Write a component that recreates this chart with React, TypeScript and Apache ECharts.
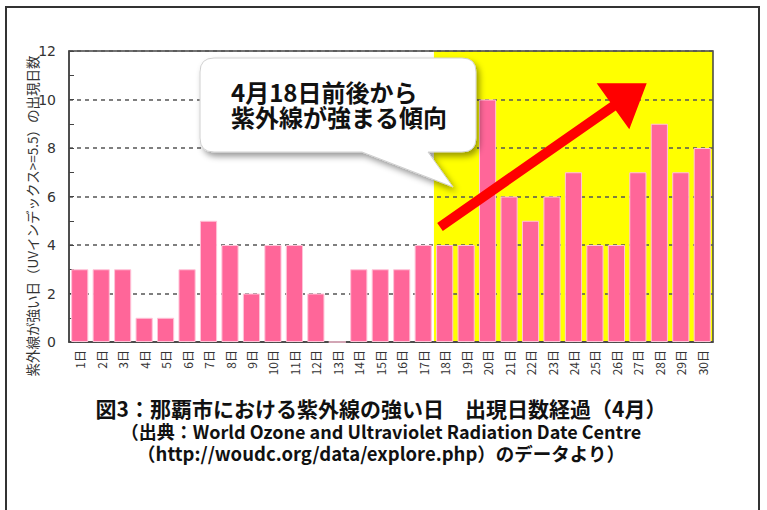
import React, { useEffect, useRef } from 'react';
import * as echarts from 'echarts';

const days = [
  '1日', '2日', '3日', '4日', '5日', '6日', '7日', '8日', '9日', '10日',
  '11日', '12日', '13日', '14日', '15日', '16日', '17日', '18日', '19日', '20日',
  '21日', '22日', '23日', '24日', '25日', '26日', '27日', '28日', '29日', '30日',
];
const uvDays = [3, 3, 3, 1, 1, 3, 5, 4, 2, 4, 4, 2, 0, 3, 3, 3, 4, 4, 4, 10, 6, 5, 6, 7, 4, 4, 7, 9, 7, 8];
const yMin = 0;
const yMax = 12;
const yStep = 2;
const highlightFrom = 17;
const highlightTo = 30;
const yAxisName = '紫外線が強い日（UVインデックス>=5.5）の出現日数';
const calloutLines = ['4月18日前後から', '紫外線が強まる傾向'];
const titleLines = [
  '図3：那覇市における紫外線の強い日　出現日数経過（4月）',
  '（出典：World Ozone and Ultraviolet Radiation Date Centre',
  '（http://woudc.org/data/explore.php）のデータより）',
];

const calloutPath =
  'M214,58 H462 Q476,58 476,72 V138 Q476,152 462,152 H428 L453,187 L362,152 H214 Q200,152 200,138 V72 Q200,58 214,58 Z';

let registered = false;

export default function App() {
  const ref = useRef<HTMLDivElement>(null);
  useEffect(() => {
    if (!registered) {
      echarts.graphic.registerShape('callout', echarts.graphic.extendPath(calloutPath, {}) as any);
      registered = true;
    }
    const chart = echarts.init(ref.current!, null, { renderer: 'svg' });
    const jp = '"Noto Sans CJK JP", sans-serif';
    chart.setOption({
      animation: false,
      backgroundColor: '#ffffff',
      grid: {
        left: 69,
        right: 54,
        top: 51,
        bottom: 168,
        show: true,
        borderColor: '#444',
        borderWidth: 1.5,
        backgroundColor: 'transparent',
        z: 2,
      },
      xAxis: [
        {
          type: 'category',
          data: days,
          boundaryGap: true,
          axisLine: { lineStyle: { color: '#444', width: 1.5 } },
          axisTick: { show: false },
          axisLabel: { rotate: 90, fontSize: 12, color: '#333', margin: 8, fontFamily: jp },
          z: 2,
        },
        { type: 'value', min: 0, max: 30, show: false },
      ],
      yAxis: {
        type: 'value',
        min: yMin,
        max: yMax,
        interval: yStep,
        axisLine: { show: true, lineStyle: { color: '#444', width: 1.5 } },
        axisTick: { show: true, inside: true, length: 5, lineStyle: { color: '#444' } },
        minorTick: { show: true, splitNumber: 2, length: 5, lineStyle: { color: '#444' } },
        splitLine: { show: true, lineStyle: { type: [4, 4], color: '#555', width: 1.5 } },
        axisLabel: { fontSize: 14, color: '#333', margin: 13, fontFamily: 'DejaVu Sans' },
        z: 2,
      },
      series: [
        {
          type: 'line',
          xAxisIndex: 1,
          data: [],
          z: 1,
          markArea: {
            silent: true,
            z: 1,
            itemStyle: { color: '#ffff00' },
            data: [[{ xAxis: highlightFrom, yAxis: yMin }, { xAxis: highlightTo, yAxis: yMax }]],
          },
        },
        {
          type: 'bar',
          data: uvDays,
          barWidth: '80%',
          z: 3,
          itemStyle: { color: '#ff6699', borderColor: '#ffc4d8', borderWidth: 1 },
        },
      ],
      graphic: [
        {
          type: 'rect',
          z: 0,
          shape: { x: 6, y: 7, width: 753, height: 530 },
          style: { fill: 'none', stroke: '#333', lineWidth: 2 },
        },
        {
          type: 'text',
          z: 10,
          x: 32,
          y: 216,
          rotation: Math.PI / 2,
          style: {
            text: yAxisName,
            font: '13.5px ' + jp,
            fill: '#333',
            textAlign: 'center',
            textVerticalAlign: 'middle',
          },
        },
        {
          type: 'polygon',
          z: 100,
          shape: {
            points: [
              [437.2, 222.9],
              [610.2, 102.2],
              [596.7, 83.3],
              [646.7, 83.3],
              [629.3, 129.3],
              [615.8, 110.4],
              [442.8, 231.1],
            ],
          },
          style: { fill: '#ff0000' },
        },
        {
          type: 'callout',
          z: 100,
          x: 0,
          y: 0,
          style: {
            fill: '#ffffff',
            stroke: '#d0d0d0',
            lineWidth: 1,
            shadowBlur: 6,
            shadowOffsetX: 3,
            shadowOffsetY: 4,
            shadowColor: 'rgba(0,0,0,0.4)',
          },
        },
        {
          type: 'text',
          z: 101,
          x: 231,
          y: 78.5,
          style: {
            text: calloutLines.join('\n'),
            font: 'bold 24px ' + jp,
            lineHeight: 25,
            fill: '#111',
            textAlign: 'left',
            textVerticalAlign: 'top',
          },
        },
        {
          type: 'text',
          z: 10,
          x: 381,
          y: 396,
          style: {
            text: `{a|${titleLines[0]}}\n{b|${titleLines[1]}}\n{c|${titleLines[2]}}`,
            fill: '#111',
            textAlign: 'center',
            textVerticalAlign: 'top',
            rich: {
              a: { font: 'bold 21px ' + jp, lineHeight: 24, fill: '#111' },
              b: { font: 'bold 18px ' + jp, lineHeight: 22, fill: '#111' },
              c: { font: 'bold 18.5px ' + jp, lineHeight: 22, fill: '#111' },
            },
          },
        },
      ],
    });
    return () => chart.dispose();
  }, []);
  return <div ref={ref} style={{ position: 'fixed', left: 0, top: 0, width: 767, height: 510 }} />;
}
